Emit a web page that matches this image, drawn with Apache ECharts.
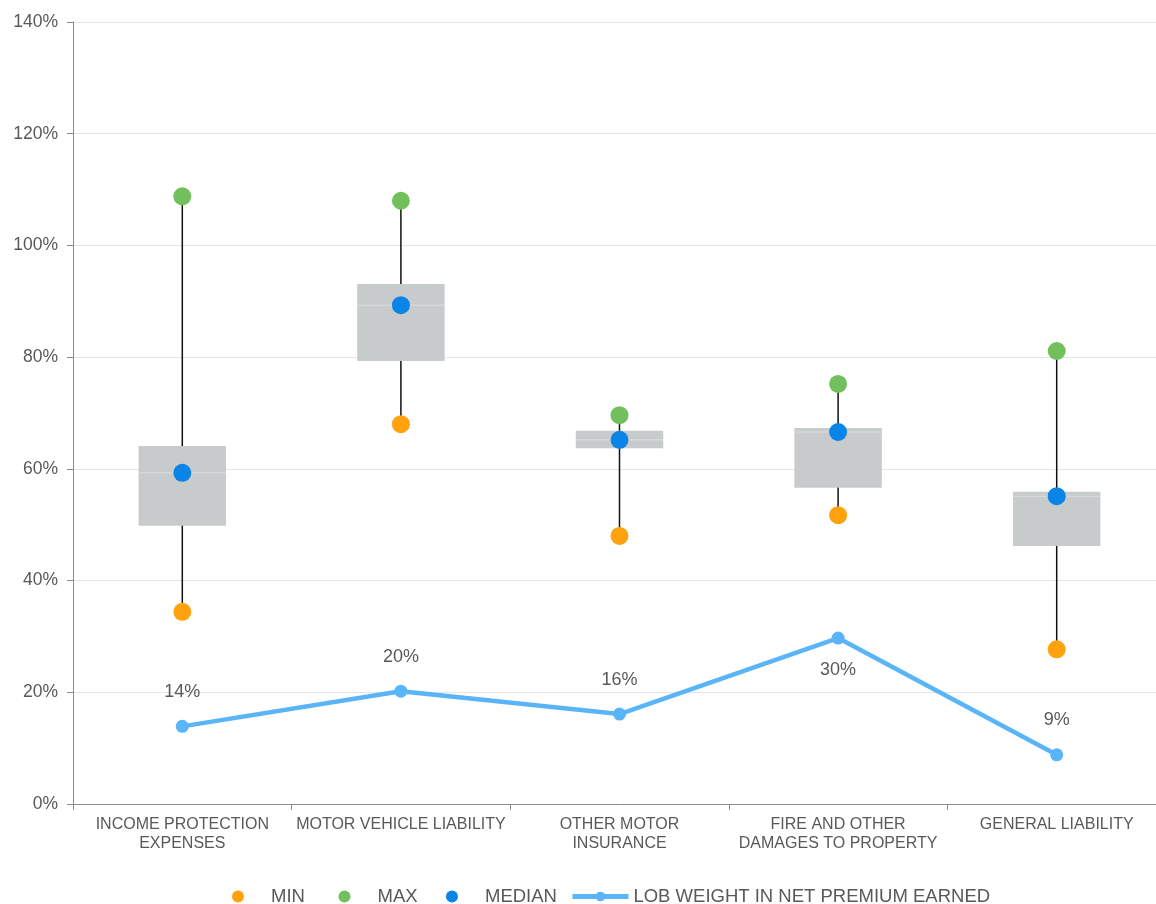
<!DOCTYPE html>
<html>
<head>
<meta charset="utf-8">
<script src="https://cdn.jsdelivr.net/npm/echarts@6/dist/echarts.min.js"></script>
<style>
  html, body { margin: 0; padding: 0; background: #fff; overflow: hidden; }
  #chart { width: 1166px; height: 904px; }
</style>
</head>
<body>
<div id="chart"></div>
<script>
// categories and values (percent)
var categories = ["INCOME PROTECTION\nEXPENSES", "MOTOR VEHICLE LIABILITY", "OTHER MOTOR\nINSURANCE", "FIRE AND OTHER\nDAMAGES TO PROPERTY", "GENERAL LIABILITY"];
var minValues = [34.4, 68.0, 48.0, 51.7, 27.7];
var maxValues = [108.8, 108.0, 69.6, 75.2, 81.1];
var medianValues = [59.3, 89.3, 65.2, 66.6, 55.1];
var q1Values = [49.8, 79.3, 63.7, 56.6, 46.2];
var q3Values = [64.1, 93.1, 66.8, 67.3, 55.9];
var lobWeight = [13.9, 20.2, 16.1, 29.7, 8.8];
var lobLabels = ["14%", "20%", "16%", "30%", "9%"];

var chart = echarts.init(document.getElementById("chart"));

var boxData = categories.map(function (c, i) {
  return [i, minValues[i], q1Values[i], medianValues[i], q3Values[i], maxValues[i]];
});

// whisker + grey box + faint median line
function renderBox(params, api) {
  var x = api.value(0);
  var pMin = api.coord([x, api.value(1)]);
  var pMax = api.coord([x, api.value(5)]);
  var pQ1 = api.coord([x, api.value(2)]);
  var pQ3 = api.coord([x, api.value(4)]);
  var pMed = api.coord([x, api.value(3)]);
  var w = api.size([1, 0])[0] * 0.4;
  return {
    type: "group",
    children: [
      { type: "line", shape: { x1: pMin[0], y1: pMin[1], x2: pMax[0], y2: pMax[1] },
        style: { stroke: "#111", lineWidth: 1.5 } },
      { type: "rect", shape: { x: pQ3[0] - w / 2, y: pQ3[1], width: w, height: pQ1[1] - pQ3[1] },
        style: { fill: "#c8cbcb" } },
      { type: "line", shape: { x1: pMed[0] - w / 2, y1: pMed[1], x2: pMed[0] + w / 2, y2: pMed[1] },
        style: { stroke: "#dcdfdf", lineWidth: 1 } }
    ]
  };
}

var lineData = lobWeight.map(function (v, i) {
  var d = { value: v };
  if (i === 3) d.label = { position: "bottom", distance: 16 };
  return d;
});

var option = {
  animation: false,
  textStyle: { fontFamily: "Liberation Sans" },
  grid: { left: 73, top: 22, width: 1093, height: 782 },
  legend: {
    top: 882,
    left: 227,
    itemWidth: 56,
    itemHeight: 12,
    itemGap: 13,
    textStyle: { fontSize: 18.5, color: "#595959", fontFamily: "Liberation Sans" },
    formatter: function (name) {
      // extra room after the short names, like the original legend
      if (name === "MIN") return name + "\u00a0\u00a0\u00a0\u00a0";
      if (name === "MAX") return name + "\u00a0\u00a0\u00a0";
      return name;
    },
    data: [
      { name: "MIN", icon: "circle" },
      { name: "MAX", icon: "circle" },
      { name: "MEDIAN", icon: "circle" },
      { name: "LOB WEIGHT IN NET PREMIUM EARNED", lineStyle: { width: 5 } }
    ]
  },
  xAxis: {
    type: "category",
    data: categories,
    axisLine: { lineStyle: { color: "#8c8c8c" } },
    axisTick: { show: true, length: 6, lineStyle: { color: "#8c8c8c" } },
    axisLabel: { interval: 0, fontSize: 16, color: "#595959", lineHeight: 19, margin: 11 }
  },
  yAxis: {
    type: "value",
    min: 0,
    max: 140,
    interval: 20,
    axisLine: { show: true, lineStyle: { color: "#8c8c8c" } },
    axisTick: { show: true, length: 6, lineStyle: { color: "#8c8c8c" } },
    splitLine: { lineStyle: { color: "#e6e6e6" } },
    axisLabel: { fontSize: 17.5, color: "#595959", margin: 15, formatter: "{value}%" }
  },
  series: [
    {
      name: "box",
      type: "custom",
      renderItem: renderBox,
      encode: { x: 0, y: [1, 2, 3, 4, 5] },
      data: boxData,
      z: 1
    },
    { name: "MIN", type: "scatter", data: minValues, symbolSize: 18,
      itemStyle: { color: "#ffa20d", opacity: 1 }, z: 3 },
    { name: "MAX", type: "scatter", data: maxValues, symbolSize: 18,
      itemStyle: { color: "#72c05b", opacity: 1 }, z: 3 },
    { name: "MEDIAN", type: "scatter", data: medianValues, symbolSize: 18,
      itemStyle: { color: "#0a84e6", opacity: 1 }, z: 3 },
    {
      name: "LOB WEIGHT IN NET PREMIUM EARNED",
      type: "line",
      data: lineData,
      symbol: "circle",
      symbolSize: 13,
      lineStyle: { color: "#5ab4f8", width: 4.5 },
      itemStyle: { color: "#5ab4f8" },
      label: { show: true, position: "top", distance: 19, fontSize: 18, color: "#595959",
        formatter: function (p) { return lobLabels[p.dataIndex]; } },
      z: 4
    }
  ]
};

chart.setOption(option);
</script>
</body>
</html>
